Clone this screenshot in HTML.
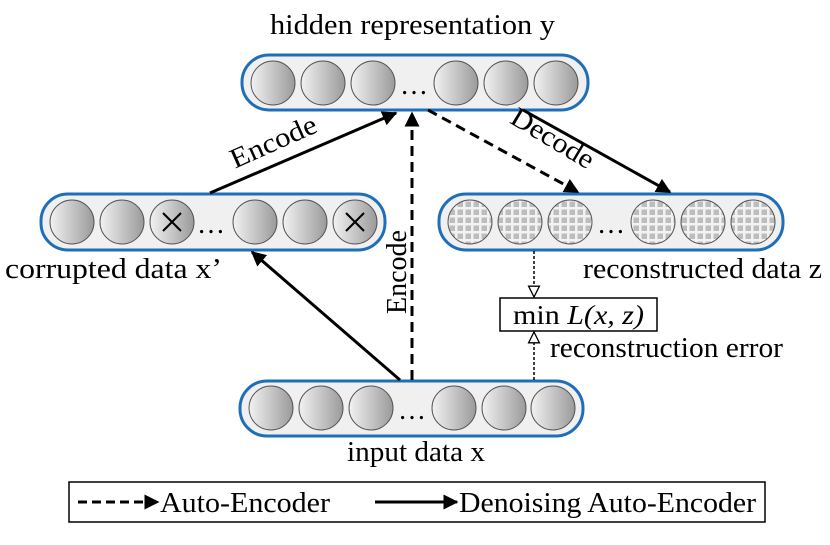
<!DOCTYPE html>
<html><head><meta charset="utf-8"><style>
html,body{margin:0;padding:0;background:#fff;}
svg{display:block;}
text{font-family:"Liberation Serif",serif;fill:#000;}
</style></head><body>
<svg width="830" height="545" viewBox="0 0 830 545" xmlns="http://www.w3.org/2000/svg">
<defs>
<linearGradient id="g" x1="0" y1="0" x2="1" y2="0">
<stop offset="0" stop-color="#f2f2f2"/><stop offset="1" stop-color="#9a9a9a"/>
</linearGradient>
<pattern id="grid" width="8" height="8" patternUnits="userSpaceOnUse">
<rect width="8" height="8" fill="#f2f2f2"/>
<rect x="1.5" y="1.5" width="5.5" height="5.5" fill="#bdbdbd"/>
</pattern>
<marker id="ah" viewBox="0 0 10 10" refX="9" refY="5" markerWidth="5" markerHeight="5" orient="auto-start-reverse" markerUnits="strokeWidth">
<path d="M0,0 L10,5 L0,10 z" fill="#000"/>
</marker>
<marker id="oh" viewBox="0 0 12 12" refX="11" refY="6" markerWidth="13" markerHeight="13" orient="auto" markerUnits="userSpaceOnUse">
<path d="M1,1 L11,6 L1,11 z" fill="#fff" stroke="#000" stroke-width="1.2"/>
</marker>
</defs>

<g stroke="#1f6fb8" stroke-width="3" fill="#f0f0f0">
<rect x="242" y="55" width="346" height="55" rx="27"/>
<rect x="41" y="194" width="344" height="56" rx="27"/>
<rect x="439" y="194" width="344" height="56" rx="27"/>
<rect x="240" y="381" width="343" height="55" rx="27"/>
</g>

<g stroke="#555" stroke-width="1">
<circle cx="273" cy="83" r="22" fill="url(#g)"/><circle cx="323" cy="83" r="22" fill="url(#g)"/><circle cx="373" cy="83" r="22" fill="url(#g)"/>
<circle cx="456" cy="83" r="22" fill="url(#g)"/><circle cx="506" cy="83" r="22" fill="url(#g)"/><circle cx="556" cy="83" r="22" fill="url(#g)"/>
<circle cx="72" cy="222" r="22" fill="url(#g)"/><circle cx="122" cy="222" r="22" fill="url(#g)"/><circle cx="172" cy="222" r="22" fill="url(#g)"/>
<circle cx="255" cy="222" r="22" fill="url(#g)"/><circle cx="305" cy="222" r="22" fill="url(#g)"/><circle cx="355" cy="222" r="22" fill="url(#g)"/>
<circle cx="470" cy="222" r="22" fill="url(#grid)"/><circle cx="520" cy="222" r="22" fill="url(#grid)"/><circle cx="570" cy="222" r="22" fill="url(#grid)"/>
<circle cx="653" cy="222" r="22" fill="url(#grid)"/><circle cx="703" cy="222" r="22" fill="url(#grid)"/><circle cx="753" cy="222" r="22" fill="url(#grid)"/>
<circle cx="271" cy="408" r="22" fill="url(#g)"/><circle cx="321" cy="408" r="22" fill="url(#g)"/><circle cx="371" cy="408" r="22" fill="url(#g)"/>
<circle cx="454" cy="408" r="22" fill="url(#g)"/><circle cx="504" cy="408" r="22" fill="url(#g)"/><circle cx="553" cy="408" r="22" fill="url(#g)"/>
</g>
<g stroke="#000" stroke-width="2">
<line x1="163" y1="213" x2="181" y2="231"/><line x1="181" y1="213" x2="163" y2="231"/>
<line x1="346" y1="213" x2="364" y2="231"/><line x1="364" y1="213" x2="346" y2="231"/>
</g>
<g font-size="28">
<text x="414" y="94" text-anchor="middle">…</text>
<text x="211" y="233" text-anchor="middle">…</text>
<text x="611" y="233" text-anchor="middle">…</text>
<text x="412" y="419" text-anchor="middle">…</text>
</g>

<g stroke="#000" stroke-width="3" fill="none">
<line x1="210" y1="193" x2="396" y2="113" marker-end="url(#ah)"/>
<line x1="523" y1="110" x2="670" y2="192" marker-end="url(#ah)"/>
<line x1="400" y1="380" x2="252" y2="252" marker-end="url(#ah)"/>
<line x1="412" y1="380" x2="412" y2="113" stroke-dasharray="10,6" marker-end="url(#ah)"/>
<line x1="428" y1="110" x2="578" y2="192" stroke-dasharray="10,6" marker-end="url(#ah)"/>
</g>
<g stroke="#000" stroke-width="1.5" fill="none" stroke-dasharray="3,2">
<line x1="534" y1="251" x2="534" y2="297" marker-end="url(#oh)"/>
<line x1="534" y1="380" x2="534" y2="332" marker-end="url(#oh)"/>
</g>
<rect x="500" y="298" width="157" height="33" fill="#fff" stroke="#000" stroke-width="1.5"/>
<text x="513" y="324" font-size="27" textLength="131" lengthAdjust="spacingAndGlyphs">min <tspan font-style="italic">L(x, z)</tspan></text>

<g font-size="28">
<text x="270" y="34" textLength="285" lengthAdjust="spacingAndGlyphs">hidden representation y</text>
<text x="5" y="278" textLength="217" lengthAdjust="spacingAndGlyphs">corrupted data x’</text>
<text x="583" y="278" textLength="239" lengthAdjust="spacingAndGlyphs">reconstructed data z</text>
<text x="550" y="357" textLength="233" lengthAdjust="spacingAndGlyphs">reconstruction error</text>
<text x="347" y="461" textLength="138" lengthAdjust="spacingAndGlyphs">input data x</text>
<text transform="translate(277,150) rotate(-24)" text-anchor="middle" textLength="92" lengthAdjust="spacingAndGlyphs">Encode</text>
<text transform="translate(548,146) rotate(31)" text-anchor="middle" textLength="92" lengthAdjust="spacingAndGlyphs">Decode</text>
<text transform="translate(406,272) rotate(-90)" text-anchor="middle" textLength="84" lengthAdjust="spacingAndGlyphs">Encode</text>
</g>

<rect x="69" y="482" width="696" height="40" fill="#fff" stroke="#000" stroke-width="1.5"/>
<g stroke="#000" stroke-width="3">
<line x1="78" y1="502" x2="158" y2="502" stroke-dasharray="9,5" marker-end="url(#ah)"/>
<line x1="375" y1="502" x2="457" y2="502" marker-end="url(#ah)"/>
</g>
<g font-size="28">
<text x="160" y="512" textLength="170" lengthAdjust="spacingAndGlyphs">Auto-Encoder</text>
<text x="459" y="512" textLength="297" lengthAdjust="spacingAndGlyphs">Denoising Auto-Encoder</text>
</g>
</svg>
</body></html>
